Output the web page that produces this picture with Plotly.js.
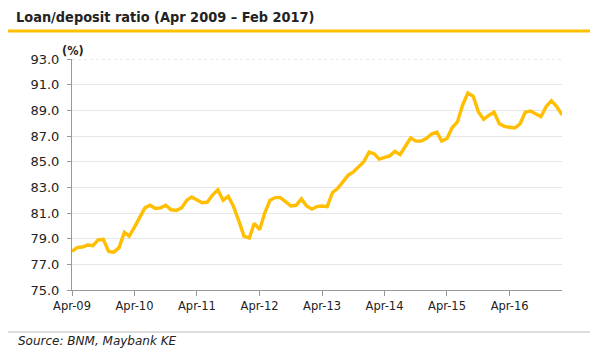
<!DOCTYPE html>
<html>
<head>
<meta charset="utf-8">
<script src="https://cdn.plot.ly/plotly-3.0.1.min.js"></script>
<style>html,body{margin:0;padding:0;background:#fff;}#chart{width:600px;height:360px;}</style>
</head>
<body>
<div id="chart"></div>
<script>
// Monthly dates, Apr 2009 - Feb 2017
const months = [
  "2009-04","2009-05","2009-06","2009-07","2009-08","2009-09","2009-10","2009-11","2009-12",
  "2010-01","2010-02","2010-03","2010-04","2010-05","2010-06","2010-07","2010-08","2010-09","2010-10","2010-11","2010-12",
  "2011-01","2011-02","2011-03","2011-04","2011-05","2011-06","2011-07","2011-08","2011-09","2011-10","2011-11","2011-12",
  "2012-01","2012-02","2012-03","2012-04","2012-05","2012-06","2012-07","2012-08","2012-09","2012-10","2012-11","2012-12",
  "2013-01","2013-02","2013-03","2013-04","2013-05","2013-06","2013-07","2013-08","2013-09","2013-10","2013-11","2013-12",
  "2014-01","2014-02","2014-03","2014-04","2014-05","2014-06","2014-07","2014-08","2014-09","2014-10","2014-11","2014-12",
  "2015-01","2015-02","2015-03","2015-04","2015-05","2015-06","2015-07","2015-08","2015-09","2015-10","2015-11","2015-12",
  "2016-01","2016-02","2016-03","2016-04","2016-05","2016-06","2016-07","2016-08","2016-09","2016-10","2016-11","2016-12",
  "2017-01","2017-02"
];
// Loan/deposit ratio (%)
const ldr = [
  78.0, 78.3, 78.35, 78.5, 78.45, 78.9, 78.95, 78.0, 77.95,
  78.3, 79.5, 79.2, 79.9, 80.6, 81.4, 81.6, 81.35, 81.4, 81.6, 81.25, 81.2,
  81.4, 82.0, 82.25, 82.0, 81.8, 81.85, 82.4, 82.8, 82.0, 82.3, 81.5, 80.4,
  79.2, 79.05, 80.2, 79.7, 81.0, 82.0, 82.2, 82.2, 81.85, 81.55, 81.6, 82.1,
  81.55, 81.3, 81.5, 81.55, 81.5, 82.6, 82.9, 83.4, 83.95, 84.2, 84.65, 85.0,
  85.75, 85.6, 85.2, 85.35, 85.45, 85.8, 85.55, 86.2, 86.85, 86.6, 86.6, 86.8,
  87.15, 87.3, 86.6, 86.8, 87.65, 88.1, 89.4, 90.35, 90.1, 88.9, 88.3, 88.6,
  88.85, 87.95, 87.75, 87.68, 87.62, 87.95, 88.85, 88.95, 88.75, 88.5, 89.3, 89.75,
  89.3, 88.65
];
const tickDates = ["2009-04-01","2010-04-01","2011-04-01","2012-04-01","2013-04-01","2014-04-01","2015-04-01","2016-04-01"];
const tickLabels = ["Apr-09","Apr-10","Apr-11","Apr-12","Apr-13","Apr-14","Apr-15","Apr-16"];
const yTicks = [75, 77, 79, 81, 83, 85, 87, 89, 91, 93];

const FONT_C = "DejaVu Sans Condensed, DejaVu Sans, sans-serif";
const FONT = "DejaVu Sans, sans-serif";

const trace = {
  x: months, y: ldr, type: "scatter", mode: "lines",
  line: {color: "#FFBE00", width: 3.4, shape: "linear"},
  hoverinfo: "skip"
};

const layout = {
  width: 600, height: 360,
  margin: {l: 72, r: 38, t: 59, b: 70},
  paper_bgcolor: "#fff", plot_bgcolor: "#fff",
  showlegend: false,
  font: {family: FONT, color: "#222", size: 12},
  title: {
    text: "<b>Loan/deposit ratio (Apr 2009 – Feb 2017)</b>",
    x: 16/600, xanchor: "left", xref: "container",
    y: 1 - 17/360, yanchor: "middle", yref: "container",
    font: {family: FONT_C, size: 14.4, color: "#222"}
  },
  xaxis: {
    type: "date",
    range: ["2009-04-01", "2017-02-01"],
    tickvals: tickDates, ticktext: tickLabels,
    showgrid: false, zeroline: false,
    showline: true, linecolor: "#999", linewidth: 1,
    ticks: "outside", ticklen: 5, tickcolor: "#999",
    tickfont: {family: FONT, size: 11.5, color: "#222"}
  },
  yaxis: {
    range: [75, 93],
    tickvals: yTicks, tickformat: ".1f",
    showgrid: true, gridcolor: "#e6e6e6", gridwidth: 1,
    zeroline: false,
    showline: true, linecolor: "#999", linewidth: 1,
    ticks: "outside", ticklen: 4, tickcolor: "#999",
    ticklabelstandoff: 5,
    tickfont: {family: FONT, size: 13, color: "#222"}
  },
  shapes: [
    {type: "line", xref: "paper", yref: "paper", x0: (8-72)/490, x1: (590-72)/490, y0: (290-31)/231, y1: (290-31)/231,
     line: {color: "#FFC000", width: 3}},
    {type: "line", xref: "paper", yref: "paper", x0: (8-72)/490, x1: (590-72)/490, y0: (290-332)/231, y1: (290-332)/231,
     line: {color: "#bbbbbb", width: 1}},
    {type: "line", xref: "paper", yref: "y", x0: 0, x1: 1, y0: 93, y1: 93, layer: "below",
     line: {color: "#d0d0d0", width: 1, dash: "dot"}}
  ],
  annotations: [
    {text: "<b>(%)</b>", xref: "paper", yref: "paper", x: 0.003, y: (290-50)/231,
     xanchor: "center", yanchor: "middle", showarrow: false,
     font: {family: FONT_C, size: 12.5, color: "#222"}},
    {text: "<i>Source: BNM, Maybank KE</i>", xref: "paper", yref: "paper",
     x: (16-72)/490, y: (290-341)/231, xanchor: "left", yanchor: "middle", showarrow: false,
     font: {family: FONT, size: 12, color: "#222"}}
  ]
};

Plotly.newPlot("chart", [trace], layout, {staticPlot: true, displayModeBar: false});
</script>
</body>
</html>
